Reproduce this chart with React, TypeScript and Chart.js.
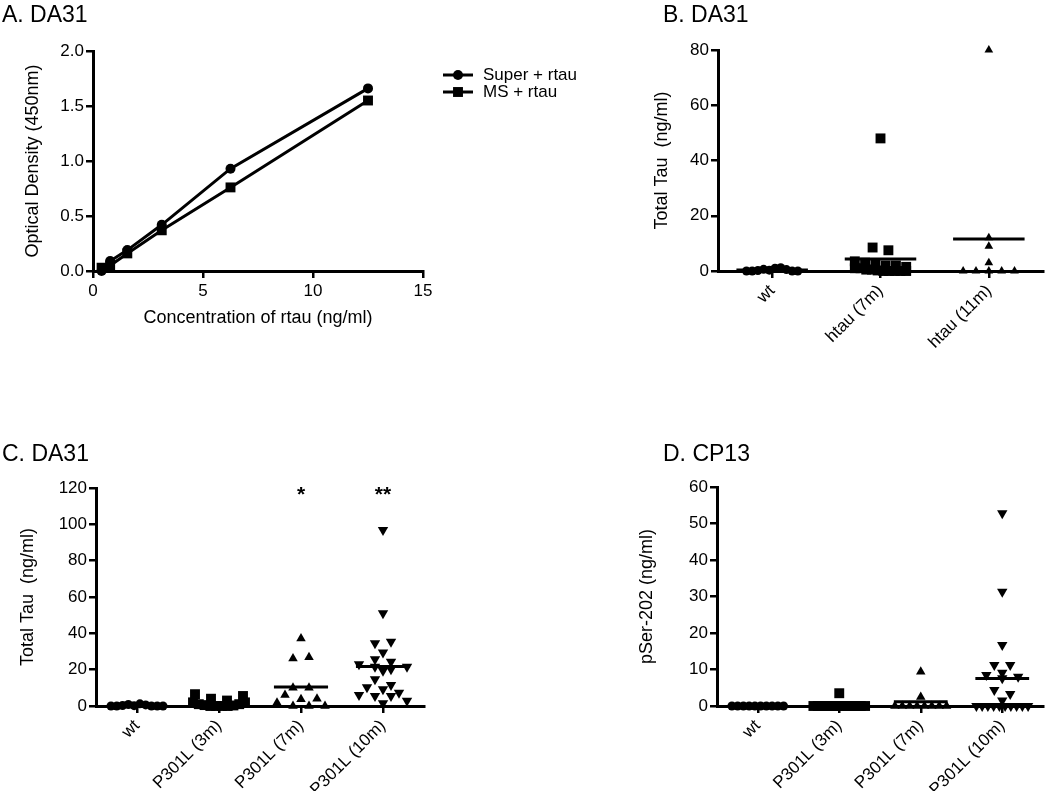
import React, { useEffect, useRef } from 'react';
import { Chart, registerables } from 'chart.js';
Chart.register(...registerables);

const FONT = 'Arial, "Liberation Sans", Helvetica, sans-serif';
Chart.defaults.font.family = FONT;
Chart.defaults.color = '#000';

// ---------- Panel A data ----------
const concA = [0.39, 0.78, 1.56, 3.125, 6.25, 12.5];
const superA = [0.0, 0.09, 0.19, 0.42, 0.93, 1.66];
const msA = [0.03, 0.05, 0.16, 0.37, 0.76, 1.55];
const seriesA = ['Super + rtau', 'MS + rtau'];
const xTicksA = [0, 5, 10, 15];
const yTicksA = [0, 0.5, 1.0, 1.5, 2.0];

// ---------- Panel B data ----------
const catsB = ['wt', 'htau (7m)', 'htau (11m)'];
const wtB = [0, 0, 0.2, 0.6, 0.3, 1.0, 1.2, 0.5, 0, 0];
const htau7B = [48, 8.5, 7.5, 3.5, 3, 2.5, 2, 2, 1.5, 1, 1, 0.5, 0.5, 0.2, 0, 0, 0, 0, 0];
const htau11B = [80, 12, 9, 3, 0, 0, 0, 0, 0];

// ---------- Panel C data ----------
const catsC = ['wt', 'P301L (3m)', 'P301L (7m)', 'P301L (10m)'];
const wtC = [0, 0, 0.3, 0.8, 0.2, 1.2, 0.6, 0, 0, 0];
const p3C = [6.5, 4, 2, 1, 0.5, 0, 0, 0, 0, 0.3, 1, 2, 3, 5.5];
const p7C = [37.2, 26.2, 26.8, 10.1, 10.1, 6, 3.7, 4, 1.8, 0, 0, 0];
const p10C = [96.9, 51, 34.5, 35.4, 29.4, 25.7, 23, 21.6, 19.4, 20.2, 21.6, 24.4, 14.7, 10.3, 9.2, 11.6, 6, 5.5, 5.5, 7.3, 1.5, 2.9];
const sigC = ['', '', '*', '**'];
const SIG_LEVEL_C = 113;

// ---------- Panel D data ----------
const catsD = ['wt', 'P301L (3m)', 'P301L (7m)', 'P301L (10m)'];
const wtD = [0, 0, 0, 0, 0, 0, 0, 0, 0, 0];
const p3D = [3.5, 0, 0, 0, 0, 0, 0, 0, 0, 0, 0, 0, 0, 0];
const p7D = [9.4, 2.5, 0, 0, 0, 0, 0, 0, 0, 0];
const p10D = [52.8, 31.3, 16.7, 11.2, 11.2, 7.6, 8.5, 9.1, 8, 4.4, 3.3, 1.5, 0, 0, 0, 0, 0, 0, 0, 0, 0, 0];

type Pad = { left: number; top: number; right: number; bottom: number };
type Panel = { left: number; top: number; w: number; h: number; pad: Pad; yW: number; xH: number; yTitlePad: number };

const panelA: Panel = { left: 0, top: 0, w: 600, h: 340, pad: { left: 0, top: 51, right: 177, bottom: 11 }, yW: 93, xH: 58, yTitlePad: 22 };
const panelB: Panel = { left: 600, top: 0, w: 450, h: 380, pad: { left: 0, top: 50, right: 3, bottom: 29 }, yW: 118, xH: 80, yTitlePad: 51 };
const panelC: Panel = { left: 0, top: 390, w: 600, h: 405, pad: { left: 0, top: 98, right: 176, bottom: 4 }, yW: 96, xH: 85, yTitlePad: 17 };
const panelD: Panel = { left: 600, top: 390, w: 450, h: 405, pad: { left: 0, top: 97, right: 5, bottom: 4 }, yW: 117, xH: 85, yTitlePad: 36 };

const tickFont = { family: FONT, size: 17 };
const titleFont = { family: FONT, size: 18, lineHeight: 1.2 };

const gridStyle = { display: true, drawOnChartArea: false, drawTicks: true, tickLength: 7, lineWidth: 2.5, color: '#000' };
const borderStyle = { display: true, width: 3, color: '#000' };

function mean(a: number[]) {
  return a.reduce((s, v) => s + v, 0) / a.length;
}

// spread points that share a value row horizontally (scatter dot plot layout)
function swarm(vals: number[], gi: number, pxPerCat: number, pxPerUnit: number) {
  const binH = 8, maxSp = 16, maxRow = 52;
  const rows = new Map<number, number[]>();
  vals.forEach((v, i) => {
    const b = Math.round((v * pxPerUnit) / binH);
    if (!rows.has(b)) rows.set(b, []);
    rows.get(b)!.push(i);
  });
  const pts = vals.map((v) => ({ x: gi, y: v }));
  rows.forEach((idx) => {
    const n = idx.length;
    const sp = n > 1 ? Math.min(maxSp, maxRow / (n - 1)) : 0;
    idx.forEach((i, k) => {
      pts[i].x = gi + ((k - (n - 1) / 2) * sp) / pxPerCat;
    });
  });
  return pts;
}

type Mark = { style: string; radius: number; rotation: number };

function dotConfig(
  panel: Panel,
  cats: string[],
  groups: number[][],
  marks: Mark[],
  yMax: number,
  yStep: number,
  yTitle: string,
  sig?: string[],
  sigLevel?: number
): any {
  const plotW = panel.w - panel.pad.left - panel.pad.right - panel.yW;
  const plotH = panel.h - panel.pad.top - panel.pad.bottom - panel.xH;
  const pxPerCat = plotW / cats.length;
  const pxPerUnit = plotH / yMax;
  const pointSets = groups.map((vals, gi) => ({
    type: 'scatter',
    data: swarm(vals, gi, pxPerCat, pxPerUnit),
    pointStyle: marks[gi].style,
    pointRadius: marks[gi].radius,
    pointRotation: marks[gi].rotation,
    backgroundColor: '#000',
    borderColor: '#000',
    borderWidth: 0,
    clip: false,
  }));
  const meanSets = groups.map((vals, gi) => {
    const m = mean(vals);
    return {
      type: 'scatter',
      showLine: true,
      data: [
        { x: gi - 0.33, y: m },
        { x: gi + 0.33, y: m },
      ],
      borderColor: '#000',
      borderWidth: 3,
      pointRadius: 0,
      clip: false,
    };
  });
  const sigPlugin = {
    id: 'sig',
    afterDatasetsDraw(chart: any) {
      if (!sig) return;
      const ctx = chart.ctx;
      ctx.save();
      ctx.fillStyle = '#000';
      ctx.font = `bold 21px ${FONT}`;
      ctx.textAlign = 'center';
      ctx.textBaseline = 'alphabetic';
      sig.forEach((s, i) => {
        if (!s) return;
        ctx.fillText(s, chart.scales.x.getPixelForValue(i), chart.scales.y.getPixelForValue(sigLevel));
      });
      ctx.restore();
    },
  };
  return {
    type: 'scatter',
    data: { datasets: [...pointSets, ...meanSets] },
    plugins: [sigPlugin],
    options: {
      animation: false,
      responsive: false,
      events: [],
      layout: { padding: panel.pad },
      plugins: { legend: { display: false }, tooltip: { enabled: false } },
      scales: {
        x: {
          type: 'linear',
          min: -0.5,
          max: cats.length - 0.5,
          afterBuildTicks: (ax: any) => {
            ax.ticks = cats.map((_, i) => ({ value: i }));
          },
          afterFit: (ax: any) => {
            ax.height = panel.xH;
          },
          grid: gridStyle,
          border: borderStyle,
          ticks: {
            autoSkip: false,
            minRotation: 45,
            maxRotation: 45,
            padding: 3,
            font: tickFont,
            color: '#000',
            callback: (v: number) => cats[v] ?? '',
          },
        },
        y: {
          type: 'linear',
          min: 0,
          max: yMax,
          afterFit: (ax: any) => {
            ax.width = panel.yW;
          },
          grid: gridStyle,
          border: borderStyle,
          ticks: { stepSize: yStep, padding: 2, font: tickFont, color: '#000' },
          title: { display: true, text: yTitle, font: titleFont, color: '#000', padding: { top: panel.yTitlePad, bottom: 0 } },
        },
      },
    },
  };
}

function configA(): any {
  const legendPlugin = {
    id: 'legendA',
    afterDraw(chart: any) {
      const ctx = chart.ctx;
      const { right, top } = chart.chartArea;
      ctx.save();
      chart.data.datasets.forEach((ds: any, i: number) => {
        const y = top + 24 + i * 17;
        const x0 = right + 20;
        ctx.strokeStyle = '#000';
        ctx.lineWidth = 3;
        ctx.beginPath();
        ctx.moveTo(x0, y);
        ctx.lineTo(x0 + 30, y);
        ctx.stroke();
        ctx.fillStyle = '#000';
        const cx = x0 + 15;
        if (ds.pointStyle === 'circle') {
          ctx.beginPath();
          ctx.arc(cx, y, ds.pointRadius, 0, Math.PI * 2);
          ctx.fill();
        } else {
          const s = ds.pointRadius * Math.SQRT1_2;
          ctx.fillRect(cx - s, y - s, 2 * s, 2 * s);
        }
        ctx.font = `17px ${FONT}`;
        ctx.textAlign = 'left';
        ctx.textBaseline = 'middle';
        ctx.fillText(ds.label, x0 + 40, y);
      });
      ctx.restore();
    },
  };
  const mk = (label: string, vals: number[], style: string, radius: number) => ({
    label,
    data: concA.map((c, i) => ({ x: c, y: vals[i] })),
    showLine: true,
    borderColor: '#000',
    borderWidth: 3,
    backgroundColor: '#000',
    pointStyle: style,
    pointRadius: radius,
    pointBorderWidth: 0,
    clip: false,
  });
  return {
    type: 'scatter',
    data: { datasets: [mk(seriesA[0], superA, 'circle', 5), mk(seriesA[1], msA, 'rect', 7)] },
    plugins: [legendPlugin],
    options: {
      animation: false,
      responsive: false,
      events: [],
      layout: { padding: panelA.pad },
      plugins: { legend: { display: false }, tooltip: { enabled: false } },
      scales: {
        x: {
          type: 'linear',
          min: 0,
          max: 15,
          afterBuildTicks: (ax: any) => {
            ax.ticks = xTicksA.map((v) => ({ value: v }));
          },
          afterFit: (ax: any) => {
            ax.height = panelA.xH;
          },
          grid: gridStyle,
          border: borderStyle,
          ticks: { padding: 3, font: tickFont, color: '#000', maxRotation: 0 },
          title: { display: true, text: 'Concentration of rtau (ng/ml)', font: titleFont, color: '#000', padding: { top: 0, bottom: 0 } },
        },
        y: {
          type: 'linear',
          min: 0,
          max: 2,
          afterBuildTicks: (ax: any) => {
            ax.ticks = yTicksA.map((v) => ({ value: v }));
          },
          afterFit: (ax: any) => {
            ax.width = panelA.yW;
          },
          grid: gridStyle,
          border: borderStyle,
          ticks: { padding: 2, font: tickFont, color: '#000', callback: (v: number) => v.toFixed(1) },
          title: { display: true, text: 'Optical Density (450nm)', font: titleFont, color: '#000', padding: { top: panelA.yTitlePad, bottom: 0 } },
        },
      },
    },
  };
}

function ChartCanvas({ panel, build }: { panel: Panel; build: () => any }) {
  const ref = useRef<HTMLCanvasElement>(null);
  useEffect(() => {
    const chart = new Chart(ref.current as HTMLCanvasElement, build());
    return () => chart.destroy();
  }, []);
  return (
    <canvas
      ref={ref}
      width={panel.w}
      height={panel.h}
      style={{ position: 'absolute', left: panel.left, top: panel.top, width: panel.w, height: panel.h }}
    />
  );
}

const titleStyle = (left: number, top: number): React.CSSProperties => ({
  position: 'absolute',
  left,
  top,
  fontFamily: FONT,
  fontSize: 23,
  lineHeight: '23px',
  color: '#000',
  whiteSpace: 'nowrap',
});

export default function App() {
  const circle: Mark = { style: 'circle', radius: 4.5, rotation: 0 };
  const square: Mark = { style: 'rect', radius: 7, rotation: 0 };
  const tri: Mark = { style: 'triangle', radius: 5.5, rotation: 0 };
  const invTri: Mark = { style: 'triangle', radius: 6, rotation: 180 };
  return (
    <div style={{ position: 'fixed', left: 0, top: 0, width: 1050, height: 795, background: '#fff' }}>
      <ChartCanvas panel={panelA} build={configA} />
      <ChartCanvas
        panel={panelB}
        build={() => dotConfig(panelB, catsB, [wtB, htau7B, htau11B], [circle, square, { ...tri, radius: 5 }], 80, 20, 'Total Tau  (ng/ml)')}
      />
      <ChartCanvas
        panel={panelC}
        build={() => dotConfig(panelC, catsC, [wtC, p3C, p7C, p10C], [circle, square, tri, invTri], 120, 20, 'Total Tau  (ng/ml)', sigC, SIG_LEVEL_C)}
      />
      <ChartCanvas
        panel={panelD}
        build={() => dotConfig(panelD, catsD, [wtD, p3D, p7D, p10D], [circle, square, tri, invTri], 60, 10, 'pSer-202 (ng/ml)')}
      />
      <div style={titleStyle(2, 3)}>A. DA31</div>
      <div style={titleStyle(663, 3)}>B. DA31</div>
      <div style={titleStyle(2, 442)}>C. DA31</div>
      <div style={titleStyle(663, 442)}>D. CP13</div>
    </div>
  );
}
